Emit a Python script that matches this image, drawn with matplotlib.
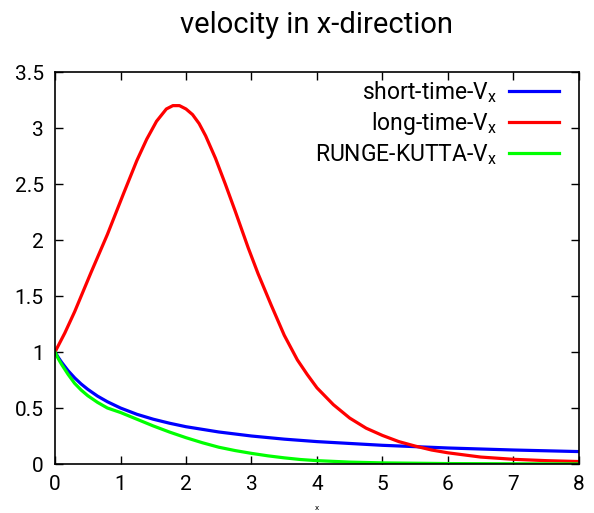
import numpy as np
import matplotlib
matplotlib.use("Agg")
import matplotlib.pyplot as plt

plt.rcParams['font.family'] = ['Roboto', 'DejaVu Sans']
plt.rcParams['mathtext.fontset'] = 'custom'
plt.rcParams['mathtext.rm'] = 'Roboto'
plt.rcParams['mathtext.it'] = 'Roboto'

# short-time solution
x_short = [0, 0.05, 0.1, 0.2, 0.3, 0.4, 0.5, 0.65, 0.8, 1.0, 1.25, 1.5, 1.75, 2.0,
           2.5, 3.0, 3.5, 4.0, 5.0, 6.0, 7.0, 8.0]
v_short = [1.0, 0.952, 0.909, 0.833, 0.769, 0.714, 0.667, 0.606, 0.556, 0.5, 0.444, 0.4, 0.364, 0.333,
           0.286, 0.25, 0.222, 0.2, 0.167, 0.143, 0.125, 0.111]

# long-time solution
x_long = [0, 0.15, 0.3, 0.55, 0.8, 1.05, 1.25, 1.4, 1.55, 1.7, 1.8, 1.9, 2.0, 2.1, 2.2, 2.3, 2.45,
          2.6, 2.75, 2.95, 3.1, 3.3, 3.5, 3.7, 3.85, 4.0, 4.25, 4.5, 4.75, 5.0, 5.25, 5.5,
          5.75, 6.0, 6.5, 7.0, 7.5, 8.0]
v_long = [1.0, 1.17, 1.36, 1.71, 2.05, 2.42, 2.71, 2.9, 3.06, 3.17, 3.2, 3.2, 3.17, 3.12, 3.04, 2.93, 2.73,
          2.5, 2.26, 1.93, 1.7, 1.42, 1.15, 0.93, 0.8, 0.68, 0.53, 0.41, 0.32, 0.255, 0.2, 0.16,
          0.125, 0.1, 0.062, 0.042, 0.03, 0.022]

# Runge-Kutta solution
x_rk = [0, 0.05, 0.1, 0.2, 0.3, 0.4, 0.5, 0.65, 0.8, 1.0, 1.25, 1.5, 1.75, 2.0, 2.25, 2.5,
        2.75, 3.0, 3.25, 3.5, 3.75, 4.0, 4.5, 5.0, 6.0, 7.0, 8.0]
v_rk = [1.0, 0.94, 0.89, 0.8, 0.72, 0.66, 0.61, 0.55, 0.5, 0.46, 0.40, 0.34, 0.285, 0.235, 0.19, 0.15,
        0.12, 0.095, 0.073, 0.055, 0.04, 0.03, 0.017, 0.01, 0.004, 0.002, 0.001]

fig = plt.figure(figsize=(5.94, 5.13), dpi=100)
ax = fig.add_axes([0.0926, 0.0955, 0.8821, 0.7641])

ax.plot(x_short, v_short, color='#0000ff', lw=2.3, label='short-time-V$_\\mathrm{x}$')
ax.plot(x_long, v_long, color='#ff0000', lw=2.3, label='long-time-V$_\\mathrm{x}$')
ax.plot(x_rk, v_rk, color='#00ff00', lw=2.3, label='RUNGE-KUTTA-V$_\\mathrm{x}$')

ax.set_xlim(0, 8)
ax.set_ylim(0, 3.5)
ax.set_xticks(range(0, 9))
ax.set_yticks([0, 0.5, 1, 1.5, 2, 2.5, 3, 3.5])
ax.set_yticklabels(['0', '0.5', '1', '1.5', '2', '2.5', '3', '3.5'])
ax.tick_params(direction='in', top=True, right=True, length=6, width=1,
               labelsize=15, colors='black', pad=8)
for s in ax.spines.values():
    s.set_linewidth(1.2)

ax.set_title('velocity in x-direction', fontsize=21, pad=28)
ax.set_xlabel('x', fontsize=6, labelpad=8)

ax.legend(loc='upper right', frameon=False, markerfirst=False, fontsize=16.5,
          handlelength=2.2, labelspacing=0.22, borderaxespad=0.1, handletextpad=0.5,
          borderpad=0.2, bbox_to_anchor=(0.975, 1.0))

fig.savefig('out.png', dpi=100)
